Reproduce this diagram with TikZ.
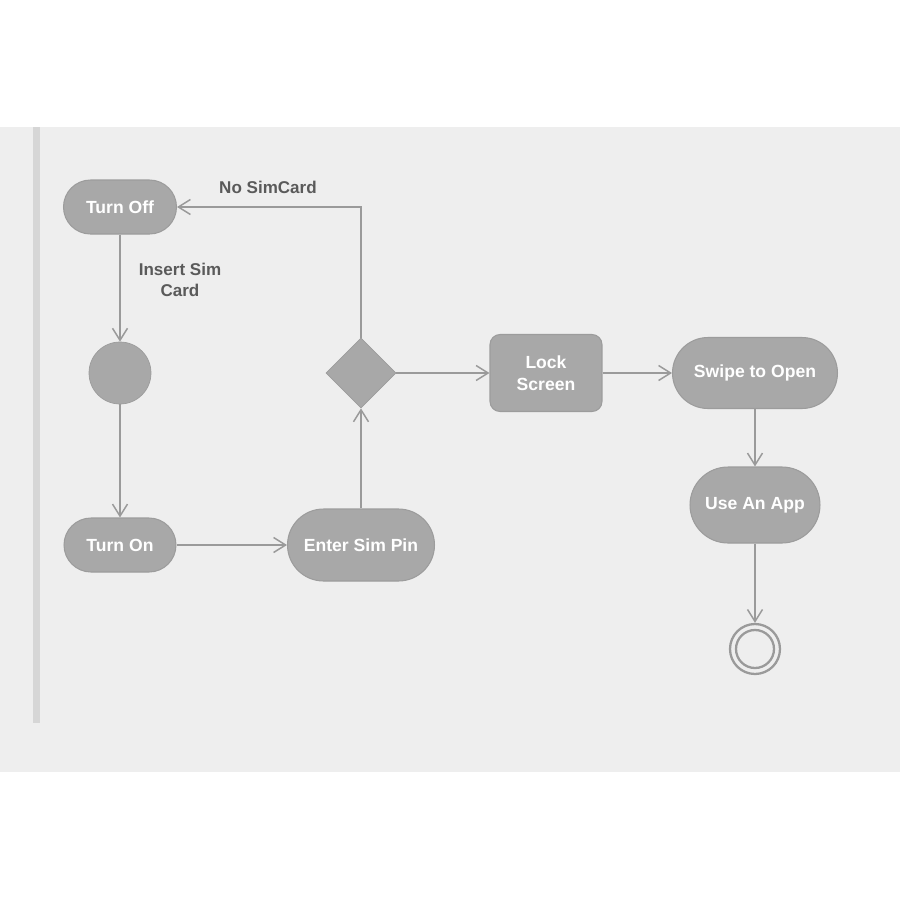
\documentclass[tikz,border=0pt]{standalone}
\usepackage{fontspec}
\setmainfont{Liberation Sans}
\usetikzlibrary{arrows.meta,shapes.geometric}
\definecolor{panel}{HTML}{EEEEEE}
\definecolor{railgray}{HTML}{D6D6D6}
\definecolor{nodefill}{HTML}{A8A8A8}
\definecolor{nodeline}{HTML}{9C9C9C}
\definecolor{flowline}{HTML}{9A9A9A}
\definecolor{labeltext}{HTML}{5A5A5A}
\tikzset{
  x=0.02cm, y=-0.02cm,
  action/.style={draw=nodeline, fill=nodefill, line width=0.6pt, inner sep=0pt,
    text=white, font=\bfseries\fontsize{10}{12.2}\selectfont, align=center},
  pill/.style={action, rectangle, rounded corners=#1},
  initnode/.style={circle, draw=nodeline, fill=nodefill, inner sep=0pt, minimum size=1.24cm},
  choice/.style={diamond, draw=nodeline, fill=nodefill, inner sep=0pt,
    minimum width=1.4cm, minimum height=1.4cm},
  flow/.style={draw=flowline, line width=0.85pt,
    -{Straight Barb[length=0.24cm, width=0.3cm, line width=0.85pt]}},
  guard/.style={text=labeltext, font=\bfseries\fontsize{9.7}{12.2}\selectfont, align=center}
}
\begin{document}
\begin{tikzpicture}
  % canvas and swimlane panel
  \useasboundingbox (0,0) rectangle (900,900);
  \fill[white] (0,0) rectangle (900,900);
  \fill[panel] (0,127) rectangle (900,772);
  \fill[railgray] (33,127) rectangle (40,723);

  % activity nodes
  \node[pill=0.54cm, minimum width=2.26cm, minimum height=1.08cm] (off) at (120,207) {Turn Off};
  \node[initnode] (init) at (120,373) {};
  \node[pill=0.54cm, minimum width=2.24cm, minimum height=1.08cm] (on) at (120,545) {Turn On};
  \node[pill=0.72cm, minimum width=2.94cm, minimum height=1.44cm] (pin) at (361,545) {Enter Sim Pin};
  \node[choice] (check) at (361,373) {};
  \node[pill=0.2cm, minimum width=2.24cm, minimum height=1.54cm] (lock) at (546,373) {Lock\\Screen};
  \node[pill=0.71cm, minimum width=3.3cm, minimum height=1.42cm] (swipe) at (755,373) {Swipe to Open};
  \node[pill=0.76cm, minimum width=2.6cm, minimum height=1.52cm] (app) at (755,505) {Use An App};

  % final node
  \node[circle, draw=flowline, line width=1.3pt, fill=panel, minimum size=1.0cm, inner sep=0pt] (final) at (755,649) {};
  \draw[flowline, line width=1.3pt] (final.center) circle[radius=0.38cm];

  % transitions
  \draw[flow] (off) -- (init);
  \draw[flow] (init) -- (on);
  \draw[flow] (on) -- (pin);
  \draw[flow] (pin) -- (check);
  \draw[flow] (check.north) |- (off.east);
  \draw[flow] (check) -- (lock);
  \draw[flow] (lock) -- (swipe);
  \draw[flow] (swipe) -- (app);
  \draw[flow] (app) -- (final);

  % guard labels
  \node[guard] (ginsert) at (180,280) {Insert Sim\\Card};
  \node[guard] (gnosim) at (268,187) {No SimCard};
\end{tikzpicture}
\end{document}
